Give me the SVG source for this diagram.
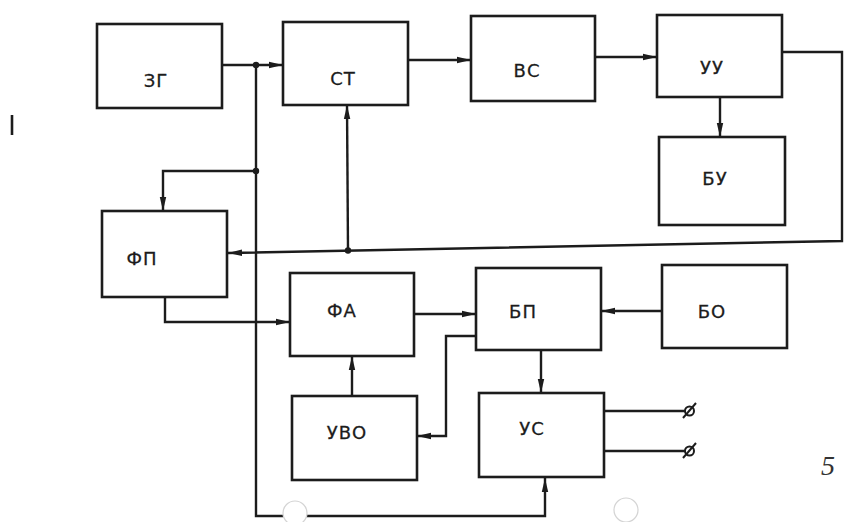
<svg xmlns="http://www.w3.org/2000/svg" width="846" height="522" viewBox="0 0 846 522">
<defs>
<style>
.box{fill:none;stroke:#1c1c1c;stroke-width:2.6}
.lbl{font-family:"DejaVu Sans","Liberation Sans",sans-serif;font-size:18px;fill:#1c1c1c;text-anchor:middle;dominant-baseline:central;letter-spacing:1px;stroke:#1c1c1c;stroke-width:0.3}
.wire{fill:none;stroke:#1c1c1c;stroke-width:2.4;stroke-linejoin:miter}
.arr{marker-end:url(#ah)}
.dot{fill:#1c1c1c}
.hole{fill:#ffffff;stroke:#d4d4d4;stroke-width:1.2}
</style>
<marker id="ah" markerUnits="userSpaceOnUse" markerWidth="14" markerHeight="8" refX="14" refY="4" orient="auto">
<path d="M0,0.8 L14,4 L0,7.2 z" fill="#1c1c1c"/>
</marker>
</defs>
<rect width="846" height="522" fill="#ffffff"/>

<g id="connectors">
<path class="wire arr" d="M222,65 L283,65"/>
<path class="wire arr" d="M256,65 L256,516 L545,516 L545,478"/>
<path class="wire arr" d="M256,171 L163,171 L163,211"/>
<path class="wire arr" d="M408,60 L471,60"/>
<path class="wire arr" d="M595,57 L657,57"/>
<path class="wire arr" d="M720,97 L720,137"/>
<path class="wire arr" d="M782,52 L842,52 L842,241 L228,253"/>
<path class="wire arr" d="M348,250.5 L347,105"/>
<path class="wire arr" d="M165,297 L165,322 L290,322"/>
<path class="wire arr" d="M414,314 L476,314"/>
<path class="wire arr" d="M662,311 L601,311"/>
<path class="wire arr" d="M476,336 L446,336 L446,436 L417,436"/>
<path class="wire arr" d="M352,396 L352,356"/>
<path class="wire arr" d="M541,350 L541,393"/>
<path class="wire" d="M604,411 L685,411"/>
<path class="wire" d="M604,451 L685,451"/>
<circle cx="689.5" cy="411" r="4.5" fill="none" stroke="#1c1c1c" stroke-width="2"/>
<line x1="683" y1="418" x2="696" y2="403" stroke="#1c1c1c" stroke-width="2"/>
<circle cx="689.5" cy="451" r="4.5" fill="none" stroke="#1c1c1c" stroke-width="2"/>
<line x1="683" y1="458" x2="696" y2="443" stroke="#1c1c1c" stroke-width="2"/>
<circle class="dot" cx="256" cy="65" r="3.2"/>
<circle class="dot" cx="256" cy="171" r="3.2"/>
<circle class="dot" cx="348" cy="250.5" r="3.2"/>
</g>

<g id="ZG"><rect class="box" x="97" y="24" width="125" height="84"/><text class="lbl" x="156" y="80">ЗГ</text></g>
<g id="ST"><rect class="box" x="283" y="22" width="125" height="83"/><text class="lbl" x="343" y="78">СТ</text></g>
<g id="VS"><rect class="box" x="471" y="16" width="124" height="85"/><text class="lbl" x="527" y="70">ВС</text></g>
<g id="UU"><rect class="box" x="657" y="15" width="125" height="82"/><text class="lbl" x="712" y="67">УУ</text></g>
<g id="BU"><rect class="box" x="659" y="137" width="126" height="88"/><text class="lbl" x="715" y="178">БУ</text></g>
<g id="FP"><rect class="box" x="102" y="211" width="125" height="86"/><text class="lbl" x="142" y="258">ФП</text></g>
<g id="FA"><rect class="box" x="290" y="273" width="124" height="83"/><text class="lbl" x="342" y="310">ФА</text></g>
<g id="BP"><rect class="box" x="476" y="268" width="125" height="82"/><text class="lbl" x="523" y="311">БП</text></g>
<g id="BO"><rect class="box" x="662" y="265" width="125" height="83"/><text class="lbl" x="712" y="311">БО</text></g>
<g id="UVO"><rect class="box" x="292" y="396" width="125" height="84"/><text class="lbl" x="347" y="432">УВО</text></g>
<g id="US"><rect class="box" x="479" y="393" width="125" height="84"/><text class="lbl" x="532" y="428">УС</text></g>

<g id="marks">
<circle class="hole" cx="295" cy="513" r="12"/>
<circle class="hole" cx="626" cy="510" r="12"/>
<line x1="12" y1="115" x2="12" y2="135" stroke="#1c1c1c" stroke-width="2.6"/>
<text x="828" y="475" font-family="Liberation Serif, serif" font-style="italic" font-size="28" fill="#333333" text-anchor="middle">5</text>
</g>
</svg>
